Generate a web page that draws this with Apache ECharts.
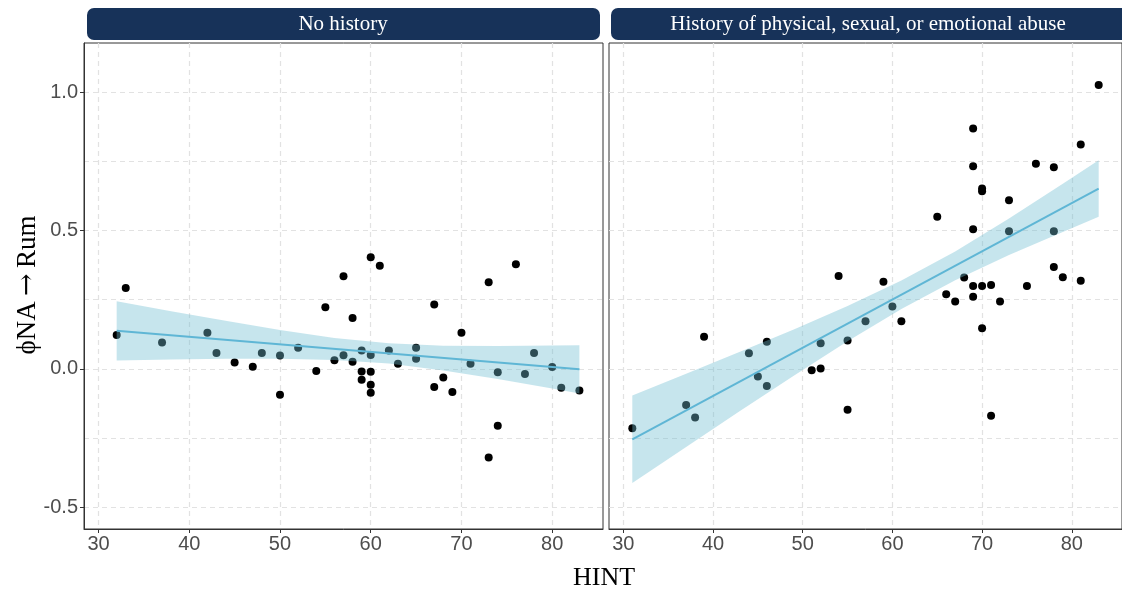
<!DOCTYPE html>
<html>
<head>
<meta charset="utf-8">
<title>HINT vs phiNA -> Rum</title>
<script src="https://cdn.jsdelivr.net/npm/echarts/dist/echarts.min.js"></script>
<style>
  html, body { margin: 0; padding: 0; background: #fff; }
  #main { width: 1122px; height: 594px; }
</style>
</head>
<body>
<div id="main"></div>
<script>
// panel titles
const panelNames = ['No history', 'History of physical, sexual, or emotional abuse']

// ticks
const xTicks = [30, 40, 50, 60, 70, 80]
const yLabelTicks = [-0.5, 0, 0.5, 1.0]
const yGridTicks = [-0.5, -0.25, 0, 0.25, 0.5, 0.75, 1.0]

// No history: points
const hintNoHist = [32, 33, 37, 42, 43, 45, 47, 48, 50, 50, 52, 54, 55, 56, 57, 57, 58, 58, 59, 59,
  59, 60, 60, 60, 60, 60, 61, 62, 63, 65, 65, 67, 67, 68, 69, 70, 71, 73, 73, 74,
  74, 76, 77, 78, 80, 81, 83]
const phiNoHist = [0.122, 0.292, 0.095, 0.130, 0.057, 0.023, 0.007, 0.057, -0.094, 0.048, 0.076, -0.008, 0.222, 0.031, 0.334, 0.049, 0.183, 0.025, 0.066, -0.010,
  -0.040, 0.403, 0.050, -0.011, -0.058, -0.087, 0.372, 0.066, 0.018, 0.076, 0.036, 0.232, -0.066, -0.032, -0.084, 0.130, 0.018, 0.313, -0.321, -0.013,
  -0.206, 0.378, -0.019, 0.057, 0.006, -0.069, -0.079]

// No history: fitted line and confidence band
const fitNoHistX = [32, 83]
const fitNoHistY = [0.137, -0.002]
const bandNoHistX = [32, 38, 44, 50, 56, 62, 68, 74, 80, 83]
const bandNoHistLo = [0.030, 0.033, 0.036, 0.036, 0.032, 0.019, -0.006, -0.037, -0.071, -0.089]
const bandNoHistHi = [0.244, 0.208, 0.173, 0.140, 0.111, 0.092, 0.083, 0.082, 0.084, 0.085]

// Abuse history: points
const hintAbuse = [31, 37, 38, 39, 44, 45, 46, 46, 51, 52, 52, 54, 55, 55, 57, 59, 60, 61, 65, 66,
  67, 68, 69, 69, 69, 69, 69, 70, 70, 70, 70, 71, 71, 72, 73, 73, 75, 76, 78, 78,
  78, 79, 81, 81, 83]
const phiAbuse = [-0.215, -0.131, -0.176, 0.116, 0.056, -0.028, 0.098, -0.062, -0.005, 0.001, 0.092, 0.335, 0.102, -0.148, 0.172, 0.314, 0.225, 0.172, 0.549, 0.269,
  0.243, 0.330, 0.868, 0.732, 0.504, 0.299, 0.260, 0.651, 0.641, 0.299, 0.146, 0.303, -0.170, 0.243, 0.609, 0.497, 0.299, 0.741, 0.728, 0.497,
  0.368, 0.331, 0.810, 0.318, 1.025]

// Abuse history: fitted line and confidence band
const fitAbuseX = [31, 83]
const fitAbuseY = [-0.255, 0.651]
const bandAbuseX = [31, 37, 43, 49, 55, 61, 67, 73, 79, 83]
const bandAbuseLo = [-0.413, -0.283, -0.153, -0.025, 0.099, 0.216, 0.320, 0.411, 0.494, 0.549]
const bandAbuseHi = [-0.097, -0.018, 0.061, 0.142, 0.227, 0.319, 0.424, 0.543, 0.668, 0.753]

const xMin = 28.4
const xMax = 85.6
const yMin = -0.579
const yMax = 1.177

const gridLine = { color: '#e2e2e2', width: 1.2, type: [5, 4] }
const tickFont = { color: '#4d4d4d', fontSize: 20, fontFamily: 'Liberation Sans, Arial, sans-serif' }
const serif = 'Liberation Serif, Times New Roman, serif'

function xAxisFor(gi) {
  return {
    type: 'value', gridIndex: gi, min: xMin, max: xMax,
    axisLine: { show: true, onZero: false, lineStyle: { color: '#333', width: 1 } },
    axisTick: { show: true, length: 4, customValues: xTicks, lineStyle: { color: '#333' } },
    axisLabel: Object.assign({ customValues: xTicks, margin: 5 }, tickFont),
    splitLine: { show: true, lineStyle: gridLine }
  }
}

function gridYAxis(gi) {
  // only draws the dashed horizontal grid lines (every 0.25)
  return {
    type: 'value', gridIndex: gi, min: yMin, max: yMax, position: 'left',
    axisLine: { show: false },
    axisTick: { show: false, customValues: yGridTicks },
    axisLabel: { show: false },
    splitLine: { show: true, lineStyle: gridLine }
  }
}

function pairs(xs, ys) {
  return xs.map((x, i) => [x, ys[i]])
}

function bandSeries(gi, yi, xs, lo, hi) {
  const data = xs.map((x, i) => [x, lo[i], hi[i]])
  return {
    type: 'custom', xAxisIndex: gi, yAxisIndex: yi, z: 3, silent: true, clip: true,
    data: data,
    encode: { x: 0, y: [1, 2] },
    renderItem(params, api) {
      if (params.dataIndex !== 0) return
      const pts = []
      for (let i = 0; i < data.length; i++) pts.push(api.coord([data[i][0], data[i][2]]))
      for (let i = data.length - 1; i >= 0; i--) pts.push(api.coord([data[i][0], data[i][1]]))
      return {
        type: 'polygon',
        shape: { points: pts },
        style: { fill: 'rgba(112,190,210,0.4)' }
      }
    }
  }
}

const chart = echarts.init(document.getElementById('main'))
chart.setOption({
  animation: false,
  backgroundColor: '#fff',
  grid: [
    { left: 84, top: 43, width: 519, height: 486, show: true, borderColor: '#333', borderWidth: 1 },
    { left: 609, top: 43, width: 519, height: 486, show: true, borderColor: '#333', borderWidth: 1 }
  ],
  xAxis: [xAxisFor(0), xAxisFor(1)],
  yAxis: [
    {
      type: 'value', gridIndex: 0, min: yMin, max: yMax, position: 'left',
      axisLine: { show: true, onZero: false, lineStyle: { color: '#333', width: 1 } },
      axisTick: { show: true, length: 4, customValues: yLabelTicks, lineStyle: { color: '#333' } },
      axisLabel: Object.assign({
        customValues: yLabelTicks, margin: 6,
        formatter: v => v.toFixed(1)
      }, tickFont),
      splitLine: { show: false }
    },
    gridYAxis(0),
    gridYAxis(1)
  ],
  graphic: [
    // facet strips
    { type: 'rect', shape: { x: 87, y: 8, width: 513, height: 32, r: 7 }, style: { fill: '#173259' } },
    { type: 'rect', shape: { x: 611, y: 8, width: 520, height: 32, r: 7 }, style: { fill: '#173259' } },
    { type: 'text', x: 343, y: 24, style: { text: panelNames[0], fill: '#fff', font: '21px ' + serif, align: 'center', verticalAlign: 'middle' } },
    { type: 'text', x: 868, y: 24, style: { text: panelNames[1], fill: '#fff', font: '21px ' + serif, align: 'center', verticalAlign: 'middle' } },
    // axis titles
    { type: 'text', x: 604, y: 578, style: { text: 'HINT', fill: '#000', font: '26px ' + serif, align: 'center', verticalAlign: 'middle' } },
    {
      type: 'text', x: 28, y: 285, rotation: Math.PI / 2,
      style: {
        text: '{t|ϕNA}{a|\u2009→\u2009}{t|Rum}', align: 'center', verticalAlign: 'middle',
        rich: {
          t: { fill: '#000', fontSize: 27, fontFamily: serif },
          a: { fill: '#000', fontSize: 27, fontFamily: 'DejaVu Serif, serif' }
        }
      }
    }
  ],
  series: [
    { type: 'scatter', xAxisIndex: 0, yAxisIndex: 0, z: 2, symbolSize: 8, itemStyle: { color: '#000', opacity: 1 }, data: pairs(hintNoHist, phiNoHist) },
    { type: 'scatter', xAxisIndex: 1, yAxisIndex: 2, z: 2, symbolSize: 8, itemStyle: { color: '#000', opacity: 1 }, data: pairs(hintAbuse, phiAbuse) },
    bandSeries(0, 0, bandNoHistX, bandNoHistLo, bandNoHistHi),
    bandSeries(1, 2, bandAbuseX, bandAbuseLo, bandAbuseHi),
    { type: 'line', xAxisIndex: 0, yAxisIndex: 0, z: 4, showSymbol: false, lineStyle: { color: '#5fb6d5', width: 2 }, data: pairs(fitNoHistX, fitNoHistY) },
    { type: 'line', xAxisIndex: 1, yAxisIndex: 2, z: 4, showSymbol: false, lineStyle: { color: '#5fb6d5', width: 2 }, data: pairs(fitAbuseX, fitAbuseY) }
  ]
})
</script>
</body>
</html>
